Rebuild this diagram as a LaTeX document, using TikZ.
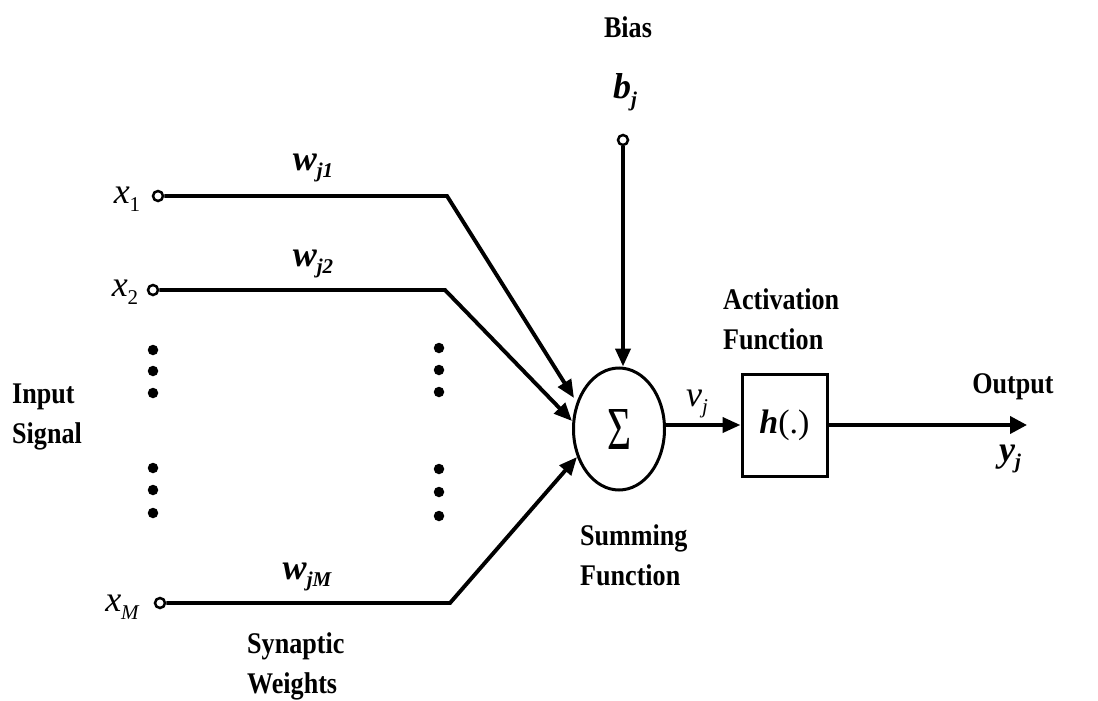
\documentclass[tikz,border=0pt]{standalone}
\usepackage{fontspec}
\setmainfont{Liberation Serif}
\usetikzlibrary{arrows.meta,shapes.geometric}
\newcommand\vsb[2]{#1\raisebox{-0.22em}{\fontsize{21}{24}\selectfont #2}}
\newcommand\wrd[1]{\scalebox{0.87}[1]{\begin{tabular}{@{}l@{}}#1\end{tabular}}}
\begin{document}
\begin{tikzpicture}[x=1pt,y=-1pt,
  wire/.style={line width=3.9pt,line join=miter},
  arr/.style={wire,-{Triangle[length=18pt,width=15pt]}},
  term/.style={circle,draw,line width=2.5pt,inner sep=0pt,minimum size=10pt,fill=white},
  dotn/.style={circle,fill,inner sep=0pt,minimum size=10.5pt},
  lbl/.style={font=\fontsize{30}{40}\selectfont\bfseries,inner sep=0pt},
  mth/.style={font=\fontsize{36}{40}\selectfont\itshape,inner sep=0pt},
  bmth/.style={font=\fontsize{36}{40}\selectfont\bfseries\itshape,inner sep=0pt}]
\useasboundingbox (0,0) rectangle (1098,701);
% terminals
\node[term] (c1) at (158,196) {};
\node[term] (c2) at (153,290) {};
\node[term] (cM) at (160,603) {};
\node[term] (cb) at (623,140) {};
% summing junction and activation
\node[ellipse,draw,line width=3pt,minimum width=91pt,minimum height=122pt,inner sep=0pt] (sum) at (619,429)
  {\resizebox{24pt}{40pt}{Σ}};
\node[rectangle,draw,line width=3pt,minimum width=85pt,minimum height=102pt,inner sep=0pt] (box) at (784.5,425)
  {\fontsize{34}{38}\selectfont{\bfseries\itshape h}(.)};
% bend and tip coordinates
\coordinate (b1) at (447,196);
\coordinate (b2) at (445,290);
\coordinate (bM) at (450,603);
\coordinate (t1) at (574,398);
\coordinate (t2) at (572,421);
\coordinate (tM) at (577,457);
\coordinate (out) at (1027,425);
% connectors
\draw[arr] (c1) -- (b1) -- (t1);
\draw[arr] (c2) -- (b2) -- (t2);
\draw[arr] (cM) -- (bM) -- (tM);
\draw[arr] (cb) -- (cb |- sum.north);
\draw[arr] (sum.east |- box.west) -- (box.west);
\draw[wire,-{Triangle[length=17pt,width=17pt]}] (box.east) -- (out);
% dots
\foreach \i/\y in {1/350,2/371,3/393,4/468,5/490,6/513}
  \node[dotn] (dl\i) at (153,\y) {};
\foreach \i/\y in {1/348,2/370,3/392,4/469,5/492,6/516}
  \node[dotn] (dr\i) at (439,\y) {};
% math labels
\node[mth] (lx1) at (127,199) {\vsb{x}{\upshape 1}};
\node[mth] (lx2) at (125,292) {\vsb{x}{\upshape 2}};
\node[mth] (lxM) at (122,607) {\vsb{x}{M}};
\node[bmth] (lw1) at (313,168) {\vsb{w}{j1}};
\node[bmth] (lw2) at (313,264) {\vsb{w}{j2}};
\node[bmth] (lwM) at (307,577) {\vsb{w}{jM}};
\node[bmth] (lb) at (625,92) {\vsb{b}{j}};
\node[mth] (lv) at (697,404) {\vsb{v}{j}};
\node[bmth] (ly) at (1010,459) {\vsb{y}{j}};
% word labels
\node[lbl] (tbias) at (628,30) {\wrd{Bias}};
\node[lbl,anchor=west] (tact) at (723,321) {\wrd{Activation\\Function}};
\node[lbl,anchor=west] (tsum) at (580,557) {\wrd{Summing\\Function}};
\node[lbl,anchor=west] (tin) at (12,415) {\wrd{Input\\Signal}};
\node[lbl,anchor=west] (tsyn) at (247,665) {\wrd{Synaptic\\Weights}};
\node[lbl] (tout) at (1013,385) {\wrd{Output}};
\end{tikzpicture}
\end{document}
